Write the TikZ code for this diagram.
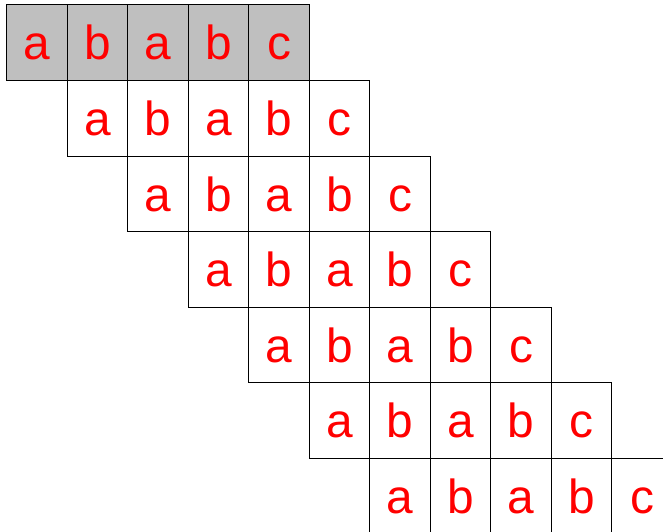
\documentclass[tikz,border=0pt]{standalone}
\usepackage{fontspec}
\setmainfont{Liberation Sans}

\begin{document}
\begin{tikzpicture}[
  cell/.style={draw, line width=0.75pt, minimum width=1.6cm, minimum height=2cm,
               inner sep=0pt, text height=0.91cm, text depth=0cm,
               font=\fontsize{36}{36}\selectfont, text=red}
]
  \useasboundingbox (0,0) rectangle (17.54,-14.05);
  \clip (0,0) rectangle (17.54,-14.05);

  % each row is the pattern shifted one cell to the right
  \foreach \r in {0,...,6} {
    \ifnum\r=0 \def\cellfill{lightgray}\else\def\cellfill{white}\fi
    \foreach \ch [count=\i from 0] in {a,b,a,b,c} {
      \node[cell, fill=\cellfill] (n\r-\i) at ({0.985+1.6*(\r+\i)}, {-1.13-2*\r}) {\ch};
    }
  }
\end{tikzpicture}
\end{document}
